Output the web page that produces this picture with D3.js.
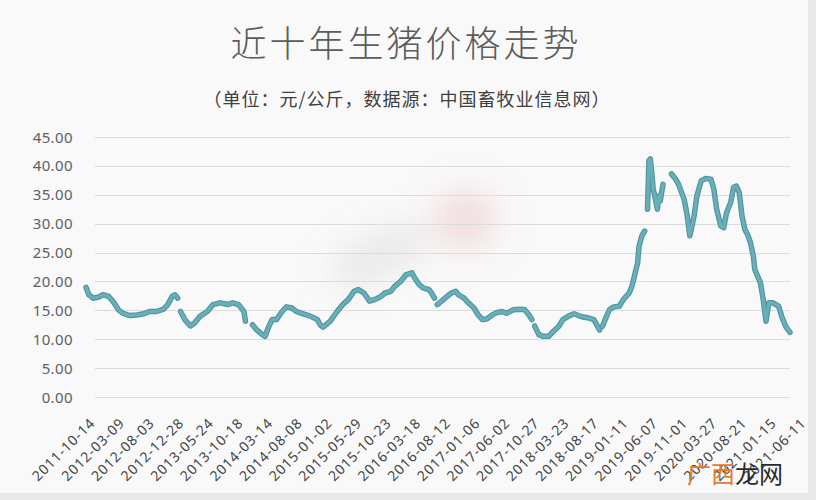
<!DOCTYPE html>
<html><head><meta charset="utf-8">
<script src="https://cdn.jsdelivr.net/npm/d3@7"></script>
<style>html,body{margin:0;padding:0;background:#e9e9e9;} svg{display:block}</style>
</head><body><svg id="c" width="816" height="500"></svg>
<script>
const title = "近十年生猪价格走势";
const subtitle = "（单位：元/公斤，数据源：中国畜牧业信息网）";
const xLabels = ["2011-10-14","2012-03-09","2012-08-03","2012-12-28","2013-05-24","2013-10-18","2014-03-14","2014-08-08","2015-01-02","2015-05-29","2015-10-23","2016-03-18","2016-08-12","2017-01-06","2017-06-02","2017-10-27","2018-03-23","2018-08-17","2019-01-11","2019-06-07","2019-11-01","2020-03-27","2020-08-21","2021-01-15","2021-06-11"];
const yTicks = [0,5,10,15,20,25,30,35,40,45];
const watermark1 = "广西", watermark2 = "龙网";
// weeks since 2011-10-14, price (null = gap)
const weeks = [0,2,5,9,12,16,19,23,26,31,36,41,45,50,55,58,61,63,65,66,
 67,70,74,77,81,86,90,95,101,104,108,112,113,115,
 118,121,125,127,129,132,135,139,142,146,149,154,159,164,166,168,173,178,182,186,190,193,197,201,205,209,212,216,219,223,227,231,233,236,239,243,245,247,248,
 249,252,256,259,262,264,268,271,275,278,281,284,288,291,295,298,303,308,311,314,316,317,
 318,321,324,328,331,335,338,342,346,349,353,356,360,362,364,365,
 366,368,371,374,378,381,385,387,389,391,392,394,396,397,
 398,399,400,401,402,403,405,406,407,408,409,411,
 415,418,420,424,426,428,431,433,436,439,443,445,447,450,452,454,457,459,461,463,465,467,469,471,473,474,478,480,482,484,487,491,493,496,499];
const prices = [19.0,17.7,17.1,17.3,17.7,17.4,16.6,15.1,14.5,14.1,14.2,14.4,14.8,14.8,15.2,16.0,17.4,17.7,17.1,null,
 14.8,13.4,12.3,12.8,14.0,14.8,16.0,16.3,16.0,16.3,16.0,14.8,13.1,null,
 12.5,11.6,10.8,10.5,11.9,13.4,13.4,14.8,15.6,15.4,14.8,14.4,14.0,13.4,12.5,12.1,13.1,14.8,16.0,16.9,18.3,18.6,18.0,16.6,16.9,17.4,18.0,18.3,19.2,20.0,21.2,21.5,20.6,19.5,18.9,18.6,18.0,17.1,null,
 16.0,16.6,17.4,18.0,18.3,17.7,17.1,16.3,15.4,14.2,13.4,13.5,14.2,14.6,14.8,14.5,15.1,15.2,15.1,14.2,13.4,null,
 12.3,10.8,10.5,10.5,11.3,12.2,13.4,14.0,14.4,14.1,13.8,13.7,13.4,12.5,11.6,null,
 12.2,13.4,15.1,15.6,15.7,16.9,18.0,19.2,21.2,23.2,26.1,27.9,28.7,null,
 32.5,40.9,41.2,38.9,36.0,35.0,32.5,34.8,33.9,35.4,36.8,null,
 38.6,37.7,36.8,34.2,31.6,27.9,31.3,34.8,37.4,37.8,37.7,36.0,32.5,29.6,29.3,31.9,33.7,36.3,36.5,35.4,31.3,29.0,28.1,26.7,24.4,22.1,19.8,16.9,13.1,16.3,16.3,15.7,14.0,12.2,11.2];

const svg = d3.select("#c");
const defs = svg.append("defs");
defs.append("filter").attr("id","blur").attr("x","-50%").attr("y","-50%").attr("width","200%").attr("height","200%")
  .append("feGaussianBlur").attr("stdDeviation",16);

svg.append("rect").attr("x",0).attr("y",0).attr("width",808).attr("height",493).attr("fill","#f9f9f9");

const x = d3.scaleLinear().domain([0, 499]).range([86, 790]);
const y = d3.scaleLinear().domain([0, 45]).range([397, 137]);
const start = new Date("2011-10-14");
const weekOf = s => Math.round((new Date(s) - start) / (7*864e5));

// smudge
const sm = svg.append("g").attr("filter","url(#blur)");
sm.append("ellipse").attr("cx",465).attr("cy",220).attr("rx",32).attr("ry",30).attr("fill","#ecc6c6").attr("opacity",0.55);
sm.append("ellipse").attr("cx",380).attr("cy",255).attr("rx",55).attr("ry",20)
  .attr("transform","rotate(-25 380 255)").attr("fill","#e0dcdc").attr("opacity",0.6);

// grid
svg.append("g").selectAll("line").data(yTicks).join("line")
  .attr("x1",95).attr("x2",790).attr("y1",d=>Math.round(y(d))+0.5).attr("y2",d=>Math.round(y(d))+0.5)
  .attr("stroke","#dcdcdc").attr("stroke-width",1);

// y labels
svg.append("g").selectAll("text").data(yTicks).join("text")
  .attr("x",73).attr("y",d=>y(d)+5.5).attr("text-anchor","end")
  .attr("font-family","Noto Sans").attr("font-size",15).attr("letter-spacing",0.4).attr("fill","#5f5f5f")
  .text(d=>d.toFixed(2));

// x labels
svg.append("g").selectAll("text").data(xLabels).join("text")
  .attr("transform",d=>`translate(${x(weekOf(d))+10},424) rotate(-45)`)
  .attr("text-anchor","end")
  .attr("font-family","Noto Sans").attr("font-size",14).attr("letter-spacing",0.9).attr("fill","#444")
  .text(d=>d);

// line
const data = weeks.map((w,i)=>({w, v: prices[i]}));
const line = d3.line().defined(d=>d.v!=null).x(d=>x(d.w)).y(d=>y(d.v));
svg.append("path").datum(data).attr("d",line).attr("fill","none")
  .attr("stroke","#52959f").attr("stroke-width",5.5).attr("stroke-linejoin","round").attr("stroke-linecap","round");
svg.append("path").datum(data).attr("d",line).attr("fill","none")
  .attr("stroke","#68afba").attr("stroke-width",3.2).attr("stroke-linejoin","round").attr("stroke-linecap","round");

// titles
svg.append("text").attr("x",406).attr("y",57).attr("text-anchor","middle")
  .attr("font-family","Noto Sans CJK SC").attr("font-weight",300).attr("font-size",36).attr("letter-spacing",3)
  .attr("fill","#5c5c5c").text(title);
svg.append("text").attr("x",407).attr("y",106).attr("text-anchor","middle")
  .attr("font-family","Noto Sans CJK SC").attr("font-size",18).attr("letter-spacing",1)
  .attr("fill","#404040").text(subtitle);

// watermark
const wm = svg.append("text").attr("x",687).attr("y",483)
  .attr("font-family","Noto Sans CJK SC").attr("font-size",24);
wm.append("tspan").attr("fill","#e47b2c").text(watermark1);
wm.append("tspan").attr("fill","#2a2a2a").text(watermark2);
</script></body></html>
